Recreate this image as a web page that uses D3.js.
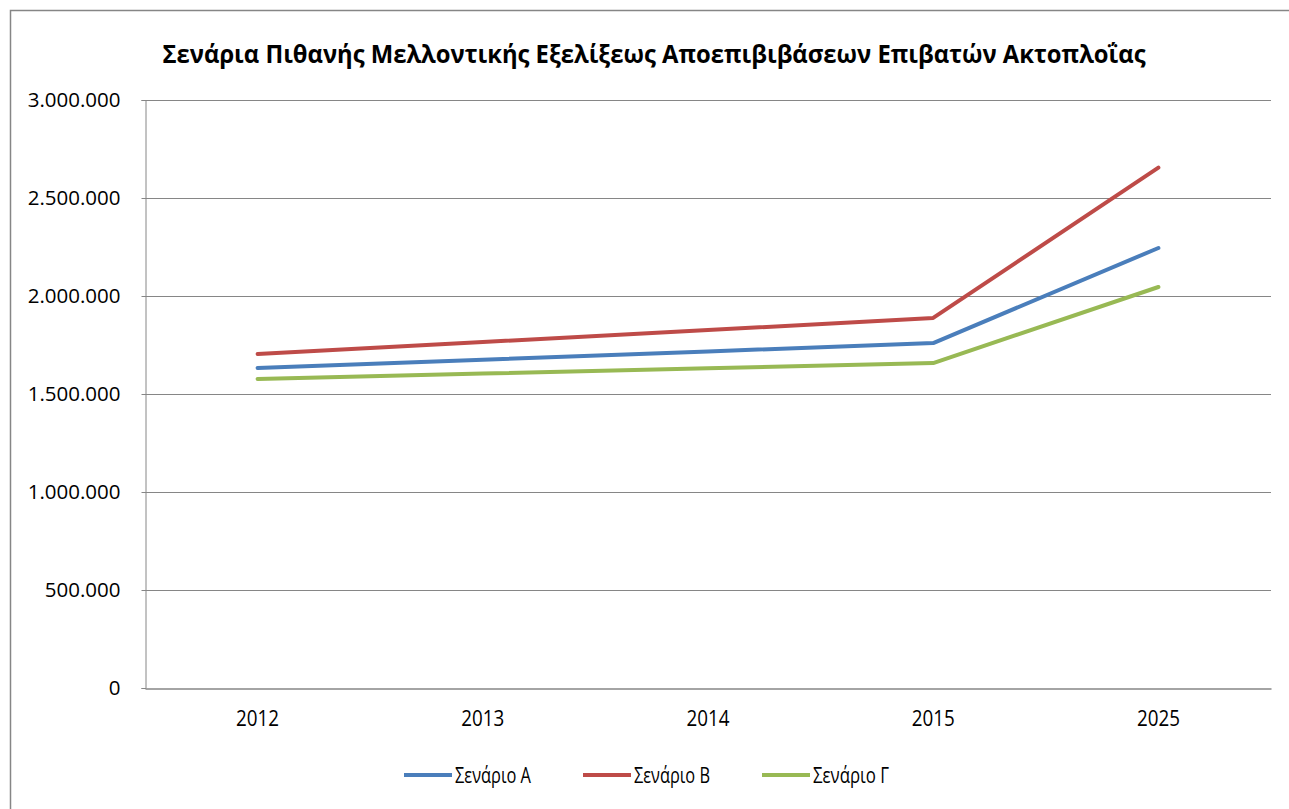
<!DOCTYPE html>
<html>
<head>
<meta charset="utf-8">
<script src="https://cdn.jsdelivr.net/npm/d3@7"></script>
<style>
  body { margin: 0; background: #fff; }
  text { font-family: "Open Sans", "DejaVu Sans", sans-serif; fill: #000; }
</style>
</head>
<body>
<div id="chart"></div>
<script>
// data
var years = ["2012", "2013", "2014", "2015", "2025"];
var scenarioA = [1633000, 1675000, 1717000, 1760000, 2245000];
var scenarioB = [1704000, 1765000, 1826000, 1888000, 2655000];
var scenarioC = [1577000, 1604000, 1631000, 1658000, 2046000];
var seriesNames = ["Σενάριο Α", "Σενάριο Β", "Σενάριο Γ"];
var colors = ["#4a7ebb", "#be4b48", "#98b954"];
var yTicks = [0, 500000, 1000000, 1500000, 2000000, 2500000, 3000000];

var W = 1289, H = 809;
var margin = {top: 100, right: 18, bottom: 121, left: 145},
    width = W - margin.left - margin.right,
    height = H - margin.top - margin.bottom;

var svg = d3.select("#chart")
  .append("svg")
    .attr("width", W)
    .attr("height", H);

// outer chart border (right/bottom run off the picture)
svg.append("rect")
    .attr("x", 10.5).attr("y", 10.5)
    .attr("width", W + 20).attr("height", H + 20)
    .attr("fill", "#fff")
    .attr("stroke", "#868686")
    .attr("stroke-width", 1.5);

svg.append("text")
    .attr("x", 654).attr("y", 63)
    .attr("text-anchor", "middle")
    .attr("textLength", 983)
    .attr("lengthAdjust", "spacingAndGlyphs")
    .style("font-size", "25px")
    .style("font-weight", "bold")
    .text("Σενάρια Πιθανής Μελλοντικής Εξελίξεως Αποεπιβιβάσεων Επιβατών Ακτοπλοΐας");

var g = svg.append("g")
    .attr("transform", "translate(" + margin.left + "," + margin.top + ")");

var x = d3.scaleBand().domain(years).range([0, width]);
var y = d3.scaleLinear().domain([0, 3000000]).range([height, 0]);

var fmt = function(d) { return d3.format(",")(d).replace(/,/g, "."); };

// gridlines
g.append("g")
    .selectAll("line")
    .data(yTicks.slice(1))
    .enter().append("line")
    .attr("x1", 0).attr("x2", width)
    .attr("y1", function(d) { return Math.round(y(d)) + 0.5; })
    .attr("y2", function(d) { return Math.round(y(d)) + 0.5; })
    .attr("stroke", "#868686")
    .attr("stroke-width", 1);

var yAxis = g.append("g")
    .attr("transform", "translate(0.5,0)")
    .call(d3.axisLeft(y).tickValues(yTicks).tickFormat(fmt).tickSize(4).tickPadding(21));
yAxis.select(".domain").attr("stroke", "#868686");
yAxis.selectAll(".tick line").attr("stroke", "#868686");
yAxis.selectAll("text").style("font-size", "20.5px").attr("fill", "#000").attr("dy", "0.3em");

var xAxis = g.append("g")
    .attr("transform", "translate(0," + (height + 0.5) + ")")
    .call(d3.axisBottom(x).tickSize(0).tickPadding(22));
xAxis.select(".domain").attr("stroke", "#868686").attr("stroke-width", 1.5);
xAxis.selectAll("text")
    .style("font-size", "22px")
    .attr("fill", "#000")
    .attr("textLength", 43)
    .attr("lengthAdjust", "spacingAndGlyphs");

var line = d3.line()
    .x(function(d, i) { return x(years[i]) + x.bandwidth() / 2; })
    .y(function(d) { return y(d); });

[scenarioA, scenarioB, scenarioC].forEach(function(s, i) {
  g.append("path")
      .datum(s)
      .attr("fill", "none")
      .attr("stroke", colors[i])
      .attr("stroke-width", 4)
      .attr("stroke-linejoin", "round")
      .attr("stroke-linecap", "round")
      .attr("d", line);
});

// legend
var legendX = [404, 583, 762];
var legend = svg.append("g").attr("transform", "translate(0,775)");
seriesNames.forEach(function(n, i) {
  legend.append("line")
      .attr("x1", legendX[i]).attr("x2", legendX[i] + 48)
      .attr("y1", 0).attr("y2", 0)
      .attr("stroke", colors[i])
      .attr("stroke-width", 4);
  legend.append("text")
      .attr("x", legendX[i] + 51).attr("y", 8)
      .attr("textLength", 76)
      .attr("lengthAdjust", "spacingAndGlyphs")
      .style("font-size", "22px")
      .text(n);
});
</script>
</body>
</html>
